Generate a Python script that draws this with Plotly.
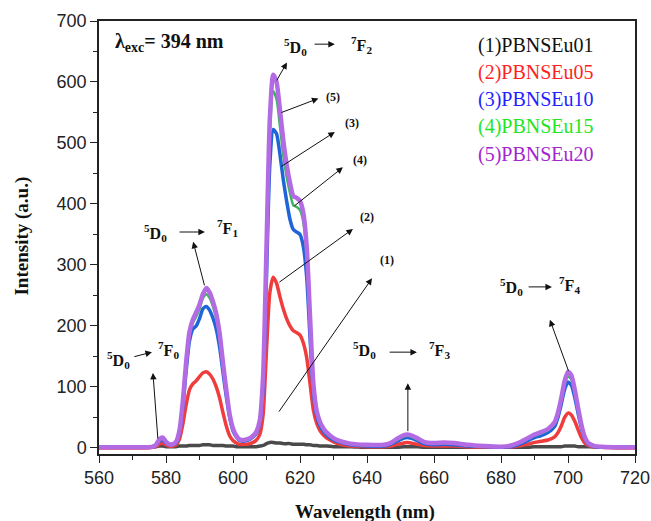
import plotly.graph_objects as go

# ---------------- data ----------------
WAVELENGTH = [560, 565, 570, 574, 576, 577, 578, 579, 580, 581, 582, 583, 584, 585, 586, 587, 588, 589, 590,
              591, 592, 593, 594, 595, 596, 597, 598, 599, 600, 601, 602, 603, 604, 605, 606, 607, 608, 609,
              610, 611, 612, 613, 614, 615, 616, 617, 618, 619, 620, 621, 622, 623, 624, 625, 626, 627, 628,
              630, 632, 635, 640, 645, 647, 649, 651, 652, 653, 655, 657, 660, 663, 666, 670, 675, 680, 683,
              686, 688, 690, 692, 694, 696, 697, 698, 699, 700, 701, 702, 703, 704, 705, 706, 708, 710, 715, 720]

EU01 = [2, 2, 2, 2, 2, 2, 3, 3, 2, 2, 2, 2, 3, 3, 3, 4, 4, 4, 4,
        5, 5, 5, 4, 4, 4, 4, 3, 3, 3, 2, 2, 2, 2, 2, 2, 2, 3, 4,
        7, 9, 9, 8, 8, 7, 7, 7, 6, 6, 6, 6, 5, 5, 4, 4, 3, 3, 3,
        2, 2, 2, 1, 1, 1, 1, 2, 2, 2, 2, 1, 1, 1, 1, 1, 1, 1, 1,
        1, 1, 2, 2, 2, 2, 2, 2, 3, 3, 3, 3, 2, 2, 2, 2, 2, 2, 1, 1]

EU05 = [0, 0, 0, 0, 1, 2, 6, 8, 5, 3, 3, 5, 14, 38, 70, 95, 105, 110, 117,
        123, 125, 121, 113, 100, 82, 58, 36, 20, 12, 8, 6, 6, 6, 7, 9, 13, 22, 55,
        160, 255, 280, 270, 248, 228, 212, 200, 192, 189, 185, 172, 148, 105, 62, 40, 28, 21, 16,
        10, 6, 3, 2, 2, 3, 6, 8, 9, 8, 6, 4, 3, 3, 3, 2, 1, 1, 1,
        4, 6, 9, 11, 13, 18, 25, 36, 50, 57, 54, 44, 30, 17, 8, 4, 1, 1, 0, 0]

EU10 = [1, 1, 1, 1, 2, 4, 11, 13, 8, 5, 5, 8, 24, 65, 125, 175, 195, 200, 212,
        228, 232, 226, 213, 195, 165, 124, 84, 50, 28, 18, 12, 11, 12, 14, 18, 24, 40, 100,
        280, 465, 522, 515, 482, 440, 405, 375, 358, 354, 350, 330, 280, 180, 90, 52, 36, 27, 21,
        13, 9, 5, 3, 3, 6, 11, 16, 17, 16, 12, 7, 5, 6, 5, 3, 2, 1, 2,
        7, 12, 17, 20, 25, 35, 50, 72, 96, 108, 103, 83, 57, 32, 15, 6, 2, 1, 1, 1]

EU15 = [1, 1, 1, 1, 2, 4, 12, 15, 9, 5, 5, 9, 26, 70, 135, 185, 205, 215, 228,
        245, 252, 246, 232, 212, 180, 134, 90, 52, 30, 19, 13, 12, 13, 15, 19, 26, 43, 112,
        310, 515, 585, 572, 528, 480, 445, 418, 398, 395, 390, 370, 315, 205, 100, 57, 40, 30, 23,
        15, 10, 6, 4, 4, 7, 13, 19, 20, 19, 14, 9, 7, 8, 7, 4, 2, 2, 3,
        9, 15, 20, 24, 29, 40, 55, 78, 104, 117, 112, 90, 62, 36, 17, 7, 3, 2, 1, 1]

EU20 = [1, 1, 1, 1, 2, 5, 14, 17, 10, 6, 6, 10, 28, 75, 140, 190, 210, 222, 235,
        252, 262, 255, 240, 220, 188, 140, 95, 55, 32, 20, 14, 13, 14, 16, 20, 27, 45, 120,
        330, 540, 612, 600, 555, 505, 465, 435, 413, 410, 405, 385, 330, 215, 105, 60, 42, 32, 25,
        16, 11, 7, 5, 5, 8, 15, 21, 22, 21, 16, 10, 8, 9, 8, 5, 3, 2, 4,
        10, 16, 22, 26, 31, 42, 58, 82, 110, 125, 119, 96, 66, 38, 18, 8, 3, 2, 1, 1]

SERIES_NAMES = ["(1)PBNSEu01", "(2)PBNSEu05", "(3)PBNSEu10", "(4)PBNSEu15", "(5)PBNSEu20"]
SERIES_VALUES = [EU01, EU05, EU10, EU15, EU20]
LINE_COLORS = ["#4a4a4a", "#f03c3c", "#1f64d8", "#3cb35c", "#b36be3"]
LINE_WIDTHS = [3.5, 3.5, 3.5, 2.5, 4.5]
LEGEND_COLORS = ["#111111", "#ff1f1f", "#1f1fff", "#22e622", "#a424d0"]

X_TICKS = [560, 580, 600, 620, 640, 660, 680, 700, 720]
Y_TICKS = [0, 100, 200, 300, 400, 500, 600, 700]

# ---------------- figure ----------------
fig = go.Figure()
for name, vals, col, w in zip(SERIES_NAMES, SERIES_VALUES, LINE_COLORS, LINE_WIDTHS):
    fig.add_trace(go.Scatter(x=WAVELENGTH, y=vals, mode="lines", name=name,
                             line=dict(color=col, width=w, shape="spline", smoothing=0.6),
                             showlegend=False))

SERIF = "Liberation Serif"
ann = []


def label(x, y, text, size=16):
    ann.append(dict(x=x, y=y, xref="x", yref="y", text="<b>" + text + "</b>", showarrow=False,
                    font=dict(family=SERIF, size=size, color="#111"), xanchor="center", yanchor="middle"))


def arrow(x0, y0, x1, y1):
    ann.append(dict(x=x1, y=y1, ax=x0, ay=y0, xref="x", yref="y", axref="x", ayref="y", text="",
                    showarrow=True, arrowhead=2, arrowsize=1.3, arrowwidth=1, arrowcolor="#111",
                    standoff=0, startstandoff=0))


# excitation label
ann.append(dict(x=564.2, y=665, xref="x", yref="y", text="<b>λ<sub>exc</sub>= 394 nm</b>",
                showarrow=False, font=dict(family=SERIF, size=20, color="#111"),
                xanchor="left", yanchor="middle"))

D0 = "<sup>5</sup>D<sub>0</sub>"
# 5D0 -> 7F2
label(618.8, 657, D0); arrow(623.9, 662, 630.4, 662); label(638.5, 660, "<sup>7</sup>F<sub>2</sub>")
# 5D0 -> 7F1
label(577.0, 352, D0); arrow(583.6, 354, 591.6, 354); label(598.5, 360, "<sup>7</sup>F<sub>1</sub>")
# 5D0 -> 7F0
label(565.7, 144, D0); arrow(570.1, 149, 575.8, 157); label(580.6, 160, "<sup>7</sup>F<sub>0</sub>")
# 5D0 -> 7F3
label(639.4, 161, D0); arrow(646.3, 157, 654.9, 157); label(661.5, 161, "<sup>7</sup>F<sub>3</sub>")
# 5D0 -> 7F4
label(683.0, 264, D0); arrow(687.8, 264, 695.2, 264); label(700.3, 267, "<sup>7</sup>F<sub>4</sub>")

# transition arrows from peaks
arrow(612.8, 600, 616.1, 632)
arrow(591.6, 264, 588.1, 338)
arrow(577.6, 13, 576.1, 123)
arrow(652.2, 25, 652.2, 106)
arrow(700.3, 124, 694.6, 210)

# numbered series arrows
arrow(614.0, 549, 625.5, 573); label(629.8, 575, "(5)", 12)
arrow(614.0, 460, 630.4, 518); label(635.5, 532, "(3)", 12)
arrow(617.9, 395, 632.8, 460); label(637.9, 472, "(4)", 12)
arrow(613.4, 270, 635.8, 359); label(640.0, 378, "(2)", 12)
arrow(613.4, 57, 641.5, 278); label(646.0, 308, "(1)", 12)

# legend text
legend_y = [660, 616, 571, 527, 481]
for name, col, yy in zip(SERIES_NAMES, LEGEND_COLORS, legend_y):
    ann.append(dict(x=672.6, y=yy, xref="x", yref="y", text=name, showarrow=False,
                    font=dict(family=SERIF, size=20, color=col), xanchor="left", yanchor="middle"))

# axis titles
ann.append(dict(x=0.497, y=-0.134, xref="paper", yref="paper", text="<b>Wavelength (nm)</b>",
                showarrow=False, font=dict(family=SERIF, size=19, color="#111"),
                xanchor="center", yanchor="middle"))
ann.append(dict(x=-0.143, y=0.503, xref="paper", yref="paper", text="<b>Intensity (a.u.)</b>",
                showarrow=False, textangle=-90, font=dict(family=SERIF, size=19, color="#111"),
                xanchor="center", yanchor="middle"))

axis_common = dict(showline=True, linecolor="#222", linewidth=1.5, mirror=True, showgrid=False,
                   zeroline=False, ticks="outside", ticklen=7, tickwidth=1.3, tickcolor="#222",
                   automargin=False,
                   tickfont=dict(family="Liberation Sans", size=18, color="#222"))

fig.update_layout(
    width=651, height=521,
    margin=dict(l=99, r=16, t=21, b=67, autoexpand=False),
    paper_bgcolor="white", plot_bgcolor="white",
    annotations=ann,
    xaxis=dict(range=[560, 720], tickvals=X_TICKS,
               minor=dict(dtick=10, tick0=560, ticks="outside", ticklen=4, tickcolor="#222"),
               **axis_common),
    yaxis=dict(range=[-10, 700], tickvals=Y_TICKS,
               minor=dict(dtick=50, tick0=0, ticks="outside", ticklen=4, tickcolor="#222"),
               **axis_common),
)

fig.write_html("out.html")
